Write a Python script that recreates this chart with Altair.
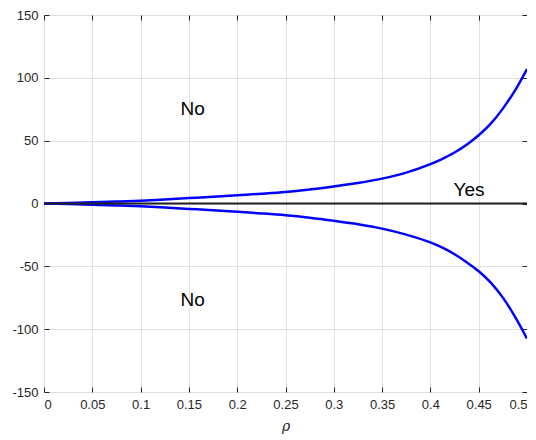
import altair as alt
import pandas as pd

# ---- data ----
rho = [0, 0.025, 0.05, 0.075, 0.1, 0.125, 0.15, 0.175, 0.2, 0.225, 0.25,
       0.275, 0.3, 0.325, 0.35, 0.375, 0.4, 0.4125, 0.425, 0.4375, 0.45,
       0.4625, 0.475, 0.4875, 0.5]
upper = [0, 0.4, 0.9, 1.5, 2.2, 3.2, 4.3, 5.4, 6.6, 7.8, 9.2,
         11.2, 13.6, 16.3, 19.8, 24.6, 31.3, 35.6, 40.6, 46.8, 54.3,
         63.5, 75.5, 89.8, 107.0]
lower = [0, -0.4, -0.9, -1.5, -2.2, -3.2, -4.3, -5.4, -6.6, -7.9, -9.4,
         -11.4, -13.8, -16.5, -20.0, -24.8, -31.0, -35.2, -40.4, -46.8, -53.9,
         -62.9, -74.9, -90.0, -107.5]
zero_rho = [0, 0.5]
zero_val = [0, 0]
label_text = ["No", "No", "Yes"]
label_x = [0.154, 0.154, 0.44]
label_y = [75.5, -76.5, 10.8]
x_ticks = [0, 0.05, 0.1, 0.15, 0.2, 0.25, 0.3, 0.35, 0.4, 0.45, 0.5]
y_ticks = [-150, -100, -50, 0, 50, 100, 150]

n = len(rho)
curves = pd.DataFrame({
    "rho": rho + rho,
    "val": upper + lower,
    "branch": ["upper"] * n + ["lower"] * n,
})
zero = pd.DataFrame({"rho": zero_rho, "val": zero_val})
labels = pd.DataFrame({"rho": label_x, "val": label_y, "text": label_text})

FONT = "Liberation Sans"
AX = "#262626"
xs = alt.Scale(domain=[0, 0.5], nice=False, zero=False)
ys = alt.Scale(domain=[-150, 150], nice=False)

# main axes: labels + grid
x_main = alt.Axis(values=x_ticks, labelExpr="datum.value + ''", title="ρ",
                  titleFontStyle="italic", titleFont="DejaVu Serif", titleFontSize=14,
                  titleFontWeight="normal", titleColor=AX, titlePadding=8,
                  grid=True, gridColor="#e0e0e0", tickSize=0, domain=False,
                  labelFont=FONT, labelFontSize=13, labelColor=AX, labelPadding=6)
y_main = alt.Axis(values=y_ticks, labelExpr="datum.value + ''", title=None, grid=True,
                  gridColor="#e0e0e0", tickSize=0, domain=False, labelFont=FONT,
                  labelFontSize=13, labelColor=AX, labelPadding=6)

# inward ticks bottom/left
x_tick_b = alt.Axis(values=x_ticks, title=None, labels=False, grid=False, domain=False,
                    tickSize=5, offset=-5, tickColor=AX, orient="bottom")
y_tick_l = alt.Axis(values=y_ticks, title=None, labels=False, grid=False, domain=False,
                    tickSize=5, offset=-5, tickColor=AX, orient="left")
# inward ticks top/right
x_tick_t = alt.Axis(values=x_ticks, title=None, labels=False, grid=False, domain=False,
                    tickSize=5, offset=-5, tickColor=AX, orient="top")
y_tick_r = alt.Axis(values=y_ticks, title=None, labels=False, grid=False, domain=False,
                    tickSize=5, offset=-5, tickColor=AX, orient="right")

curve_layer = alt.Chart(curves).mark_line(
    color="#0000ff", strokeWidth=2.5, interpolate="monotone"
).encode(
    x=alt.X("rho:Q", scale=xs, axis=x_main),
    y=alt.Y("val:Q", scale=ys, axis=y_main),
    detail="branch:N",
    order="rho:Q",
)

zero_layer = alt.Chart(zero).mark_line(color="#222222", strokeWidth=2.2).encode(
    x=alt.X("rho:Q", scale=xs, axis=x_tick_b),
    y=alt.Y("val:Q", scale=ys, axis=y_tick_l),
)

text_layer = alt.Chart(labels).mark_text(font=FONT, fontSize=19, color="#000000").encode(
    x=alt.X("rho:Q", scale=xs, axis=x_tick_t),
    y=alt.Y("val:Q", scale=ys, axis=y_tick_r),
    text="text:N",
)

chart = alt.layer(curve_layer, zero_layer, text_layer).resolve_axis(
    x="independent", y="independent"
).properties(
    width=483, height=377,
    autosize=alt.AutoSizeParams(type="none"),
    padding={"left": 36, "top": 7, "right": 0, "bottom": 46},
).configure_view(
    stroke=AX, strokeWidth=1
).configure(background="white")

chart.save("out.html", embed_options={"renderer": "svg", "actions": False})
